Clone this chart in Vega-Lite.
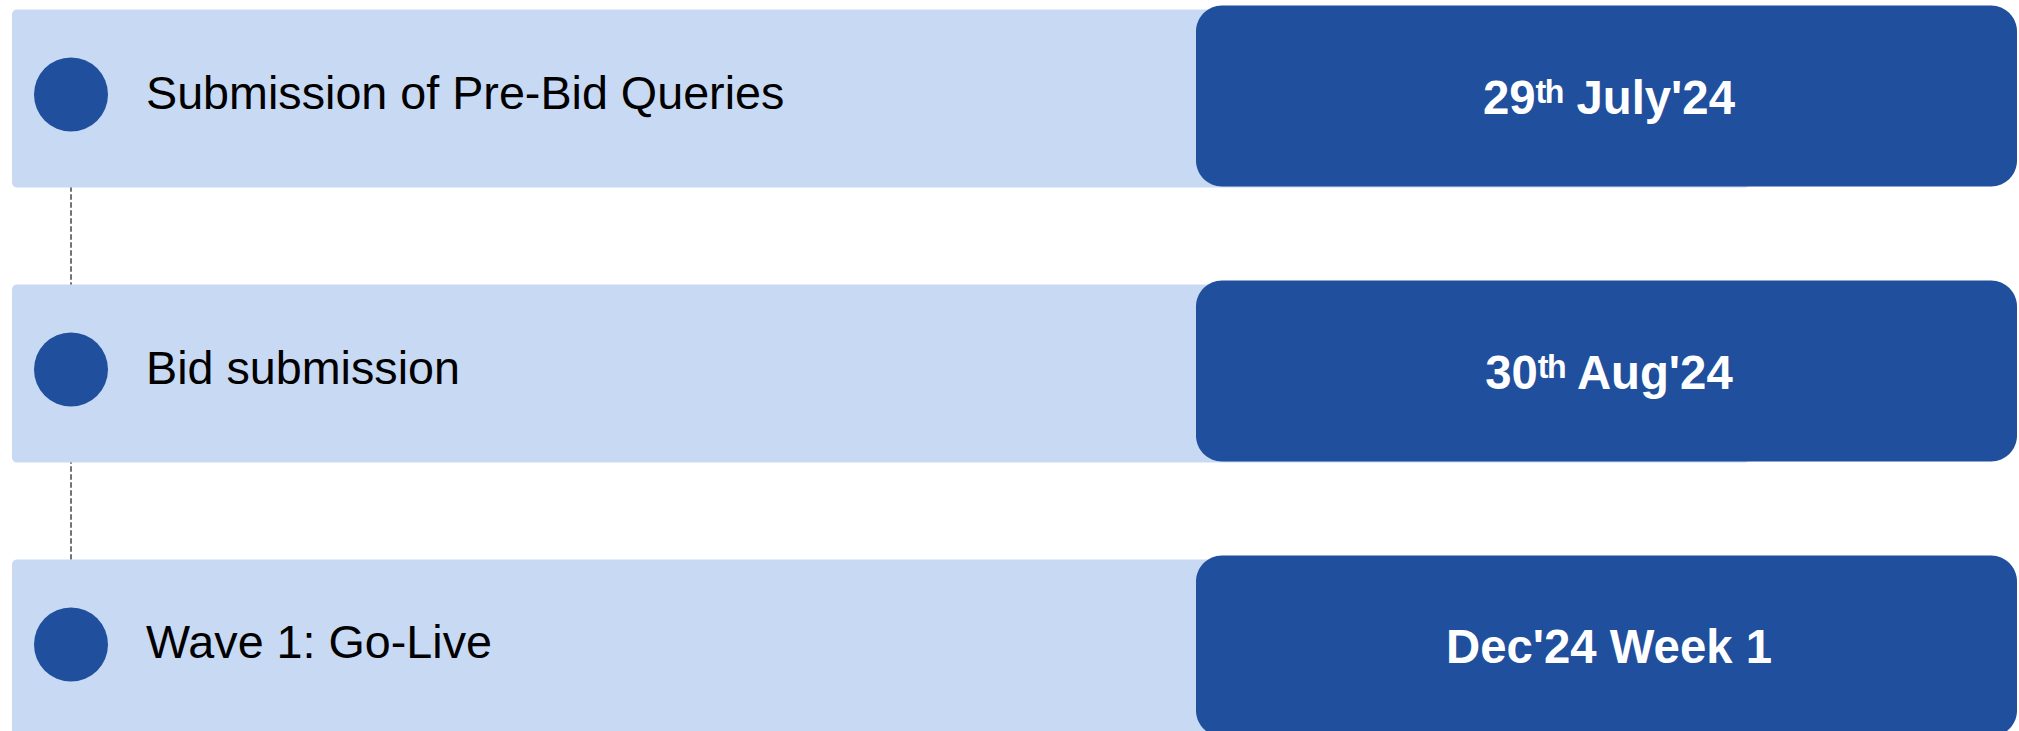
{
  "$schema": "https://vega.github.io/schema/vega-lite/v6.json",
  "width": 2019,
  "height": 731,
  "autosize": "none",
  "padding": 0,
  "background": "#ffffff",
  "config": {"view": {"stroke": null}},
  "data": {
    "values": [
      {"step": 1, "label": "Submission of Pre-Bid Queries", "date": "29ᵗʰ July'24"},
      {"step": 2, "label": "Bid submission", "date": "30ᵗʰ Aug'24"},
      {"step": 3, "label": "Wave 1: Go-Live", "date": "Dec'24 Week 1"}
    ]
  },
  "resolve": {"scale": {"y": "independent"}},
  "layer": [
    {
      "mark": {"type": "rule", "color": "#6f6f6f", "strokeWidth": 1.4, "strokeDash": [5, 3]},
      "encoding": {
        "x": {"datum": 71, "type": "quantitative", "scale": {"domain": [0, 2019], "nice": false, "zero": false}, "axis": null},
        "y": {"datum": 1, "type": "ordinal", "scale": {"type": "band", "domain": [1, 2, 3], "range": [9.5, 737.5], "paddingInner": 0.3527, "paddingOuter": 0}, "axis": null},
        "y2": {"datum": 3}
      }
    },
    {
      "mark": {"type": "rect", "color": "#C8D9F3", "cornerRadius": 5},
      "encoding": {
        "x": {"datum": 12, "type": "quantitative", "scale": {"domain": [0, 2019], "nice": false, "zero": false}, "axis": null},
        "x2": {"datum": 1750},
        "y": {"field": "step", "type": "ordinal", "scale": {"type": "band", "domain": [1, 2, 3], "range": [9.5, 737.5], "paddingInner": 0.3527, "paddingOuter": 0}, "axis": null}
      }
    },
    {
      "mark": {"type": "rect", "color": "#1F4F9D", "cornerRadius": 26},
      "encoding": {
        "x": {"datum": 1196, "type": "quantitative", "scale": {"domain": [0, 2019], "nice": false, "zero": false}, "axis": null},
        "x2": {"datum": 2017},
        "y": {"field": "step", "type": "ordinal", "scale": {"type": "band", "domain": [1, 2, 3], "range": [5.5, 736.5], "paddingInner": 0.342, "paddingOuter": 0}, "axis": null}
      }
    },
    {
      "mark": {"type": "point", "shape": "circle", "filled": true, "opacity": 1, "color": "#1F4F9D", "size": 5476, "yOffset": -4},
      "encoding": {
        "x": {"datum": 71, "type": "quantitative", "scale": {"domain": [0, 2019], "nice": false, "zero": false}, "axis": null},
        "y": {"field": "step", "type": "ordinal", "scale": {"type": "band", "domain": [1, 2, 3], "range": [9.5, 737.5], "paddingInner": 0.3527, "paddingOuter": 0}, "axis": null}
      }
    },
    {
      "mark": {"type": "text", "align": "left", "baseline": "middle", "font": "Liberation Sans", "fontSize": 46.7, "color": "#000000", "dy": -4},
      "encoding": {
        "x": {"datum": 146, "type": "quantitative", "scale": {"domain": [0, 2019], "nice": false, "zero": false}, "axis": null},
        "y": {"field": "step", "type": "ordinal", "scale": {"type": "band", "domain": [1, 2, 3], "range": [9.5, 737.5], "paddingInner": 0.3527, "paddingOuter": 0}, "axis": null},
        "text": {"field": "label"}
      }
    },
    {
      "mark": {"type": "text", "align": "center", "baseline": "middle", "font": "Liberation Sans", "fontWeight": "bold", "fontSize": 47.3, "color": "#ffffff", "dy": 1},
      "encoding": {
        "x": {"datum": 1609, "type": "quantitative", "scale": {"domain": [0, 2019], "nice": false, "zero": false}, "axis": null},
        "y": {"field": "step", "type": "ordinal", "scale": {"type": "band", "domain": [1, 2, 3], "range": [9.5, 737.5], "paddingInner": 0.3527, "paddingOuter": 0}, "axis": null},
        "text": {"field": "date"}
      }
    }
  ]
}
